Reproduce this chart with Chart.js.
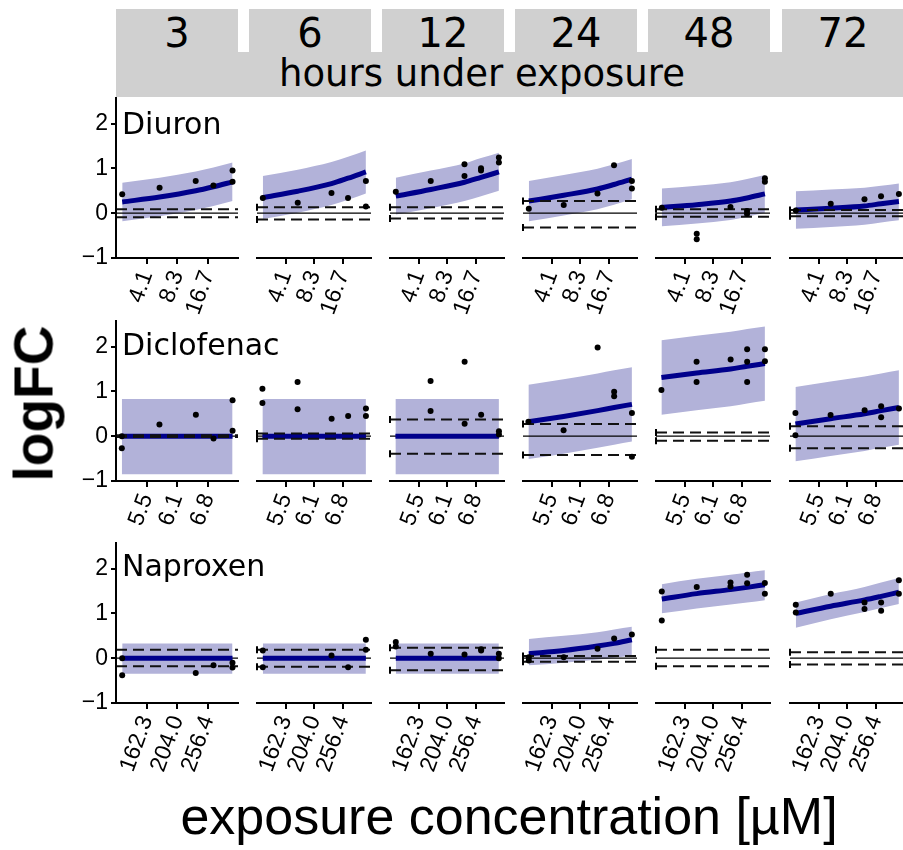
<!DOCTYPE html>
<html>
<head>
<meta charset="utf-8">
<title>logFC by exposure concentration</title>
<script src="https://cdn.jsdelivr.net/npm/chart.js@4.4.1/dist/chart.umd.min.js"></script>
<style>
  html, body { margin: 0; padding: 0; background: #fff; }
  #fig { position: relative; width: 903px; height: 850px; overflow: hidden; background: #fff; }
  .strip { position: absolute; background: #d0d0d0; }
  .txt { position: absolute; white-space: nowrap; line-height: 1; color: #000; }
  .dv { font-family: "DejaVu Sans", sans-serif; }
  .ls { font-family: "Liberation Sans", Arial, sans-serif; }
  canvas { position: absolute; }
</style>
</head>
<body>
<div id="fig"></div>
<script>
// ---- facets ----
const hours = [3, 6, 12, 24, 48, 72];
const drugNames = ['Diuron', 'Diclofenac', 'Naproxen'];

// ---- dose levels (µM), labelled breaks and axis limits per compound ----
const diuronConc = [2.34, 5.51, 12.6, 18.9, 29.3];
const diuronTicks = [4.1, 8.3, 16.7];
const diuronRange = [2.03, 33.2];

const diclofenacConc = [5.05, 5.75, 6.52, 6.93, 7.40];
const diclofenacTicks = [5.5, 6.1, 6.8];
const diclofenacRange = [4.95, 7.54];

const naproxenConc = [135.2, 178.7, 234.0, 267.2, 307.8];
const naproxenTicks = [162.3, 204.0, 256.4];
const naproxenRange = [129.1, 320.7];

// ---- Diuron: fitted logFC, confidence band, cut-offs, observations (per hour) ----
const diuronFit = [
  [0.25, 0.36, 0.50, 0.59, 0.70],
  [0.35, 0.49, 0.66, 0.78, 0.92],
  [0.38, 0.53, 0.69, 0.80, 0.92],
  [0.27, 0.40, 0.54, 0.64, 0.76],
  [0.13, 0.19, 0.27, 0.34, 0.43],
  [0.07, 0.11, 0.16, 0.21, 0.26]
];
const diuronLower = [
  [-0.18, -0.07, 0.07, 0.16, 0.27],
  [-0.13, 0.01, 0.18, 0.30, 0.44],
  [-0.03, 0.11, 0.27, 0.38, 0.50],
  [-0.18, -0.05, 0.09, 0.19, 0.31],
  [-0.29, -0.23, -0.15, -0.08, 0.01],
  [-0.35, -0.31, -0.26, -0.21, -0.16]
];
const diuronUpper = [
  [0.68, 0.79, 0.93, 1.02, 1.13],
  [0.83, 0.97, 1.14, 1.26, 1.40],
  [0.79, 0.95, 1.11, 1.23, 1.35],
  [0.72, 0.85, 0.99, 1.09, 1.21],
  [0.55, 0.61, 0.69, 0.76, 0.85],
  [0.49, 0.53, 0.57, 0.61, 0.66]
];
const diuronCutoff = [[0.09, -0.09], [0.13, -0.14], [0.13, -0.12], [0.27, -0.32], [0.09, -0.08], [0.07, -0.07]];
const diuronObs = [
  [[0, 0.42], [1, 0.57], [2, 0.72], [3, 0.62], [4, 0.95], [4, 0.70]],
  [[0, 0.34], [1, 0.23], [2, 0.45], [3, 0.34], [4, 0.72], [4, 0.15]],
  [[0, 0.48], [1, 0.72], [2, 1.09], [2, 0.83], [3, 1.00], [3, 0.95], [4, 1.24], [4, 1.13]],
  [[0, 0.10], [1, 0.18], [2, 0.44], [3, 1.07], [4, 0.72], [4, 0.55]],
  [[0, 0.12], [1, -0.46], [1, -0.58], [2, 0.14], [3, 0.05], [3, -0.02], [4, 0.78], [4, 0.70]],
  [[0, 0.06], [1, 0.21], [2, 0.31], [3, 0.38], [4, 0.43]]
];

// ---- Diclofenac ----
const diclofenacFit = [
  [0, 0, 0, 0, 0],
  [0, 0, 0, 0, 0],
  [0, 0, 0, 0, 0],
  [0.32, 0.44, 0.57, 0.64, 0.71],
  [1.31, 1.41, 1.50, 1.56, 1.62],
  [0.27, 0.39, 0.50, 0.57, 0.64]
];
const diclofenacLower = [
  [-0.85, -0.85, -0.85, -0.85, -0.85],
  [-0.85, -0.85, -0.85, -0.85, -0.85],
  [-0.85, -0.85, -0.85, -0.85, -0.85],
  [-0.51, -0.39, -0.26, -0.19, -0.12],
  [0.48, 0.58, 0.67, 0.73, 0.79],
  [-0.56, -0.44, -0.33, -0.26, -0.19]
];
const diclofenacUpper = [
  [0.83, 0.83, 0.83, 0.83, 0.83],
  [0.83, 0.83, 0.83, 0.83, 0.83],
  [0.83, 0.83, 0.83, 0.83, 0.83],
  [1.15, 1.27, 1.40, 1.47, 1.54],
  [2.14, 2.24, 2.33, 2.39, 2.45],
  [1.10, 1.22, 1.33, 1.40, 1.47]
];
const diclofenacCutoff = [[0.02, -0.02], [0.06, -0.06], [0.37, -0.39], [0.27, -0.42], [0.08, -0.10], [0.22, -0.27]];
const diclofenacObs = [
  [[0, -0.27], [0, 0.00], [1, 0.26], [2, 0.48], [3, -0.05], [4, 0.80], [4, 0.12]],
  [[0, 1.06], [0, 0.74], [1, 1.21], [1, 0.60], [2, 0.39], [3, 0.45], [4, 0.62], [4, 0.45]],
  [[1, 1.23], [1, 0.56], [2, 1.66], [2, 0.28], [3, 0.48], [4, 0.11], [4, 0.04]],
  [[0, 0.32], [1, 0.13], [2, 1.98], [3, 0.99], [3, 0.89], [4, 0.52], [4, -0.46]],
  [[0, 1.03], [1, 1.66], [1, 1.21], [2, 1.71], [3, 1.94], [3, 1.66], [3, 1.21], [4, 1.94], [4, 1.67]],
  [[0, 0.52], [0, 0.02], [1, 0.47], [2, 0.58], [3, 0.67], [3, 0.42], [4, 0.62]]
];

// ---- Naproxen ----
const naproxenFit = [
  [0, 0, 0, 0, 0],
  [0, 0, 0, 0, 0],
  [0, 0, 0, 0, 0],
  [0.10, 0.17, 0.27, 0.33, 0.41],
  [1.32, 1.44, 1.53, 1.58, 1.64],
  [1.00, 1.16, 1.30, 1.38, 1.47]
];
const naproxenLower = [
  [-0.35, -0.35, -0.35, -0.35, -0.35],
  [-0.35, -0.35, -0.35, -0.35, -0.35],
  [-0.35, -0.35, -0.35, -0.35, -0.35],
  [-0.16, -0.10, -0.03, 0.01, 0.06],
  [1.00, 1.11, 1.20, 1.24, 1.29],
  [0.68, 0.87, 1.03, 1.12, 1.21]
];
const naproxenUpper = [
  [0.33, 0.33, 0.33, 0.33, 0.33],
  [0.33, 0.33, 0.33, 0.33, 0.33],
  [0.33, 0.33, 0.33, 0.33, 0.33],
  [0.43, 0.50, 0.58, 0.64, 0.70],
  [1.65, 1.77, 1.86, 1.91, 1.96],
  [1.24, 1.43, 1.59, 1.69, 1.79]
];
const naproxenCutoff = [[0.19, -0.18], [0.19, -0.19], [0.23, -0.27], [0.05, -0.08], [0.19, -0.18], [0.13, -0.14]];
const naproxenObs = [
  [[0, -0.38], [0, 0.00], [2, -0.33], [3, -0.16], [4, -0.21], [4, -0.10]],
  [[0, 0.17], [0, -0.20], [2, 0.06], [3, -0.20], [4, 0.41], [4, 0.19]],
  [[0, 0.36], [0, 0.26], [1, 0.10], [2, 0.08], [3, 0.17], [3, 0.20], [4, 0.10], [4, 0.00]],
  [[0, 0.02], [0, -0.05], [1, 0.02], [2, 0.21], [3, 0.44], [4, 0.53]],
  [[0, 1.49], [0, 0.84], [1, 1.59], [2, 1.69], [2, 1.60], [3, 1.86], [3, 1.67], [4, 1.68], [4, 1.44]],
  [[0, 1.19], [0, 1.02], [1, 1.44], [2, 1.24], [2, 1.10], [3, 1.24], [3, 1.06], [4, 1.74], [4, 1.44]]
];

const yTicks = [-1, 0, 1, 2];
const yRange = [-1, 2.57];

// ---- assemble rows ----
const rows = [
  { conc: diuronConc, ticks: diuronTicks, range: diuronRange, fit: diuronFit, lower: diuronLower, upper: diuronUpper, cut: diuronCutoff, obs: diuronObs },
  { conc: diclofenacConc, ticks: diclofenacTicks, range: diclofenacRange, fit: diclofenacFit, lower: diclofenacLower, upper: diclofenacUpper, cut: diclofenacCutoff, obs: diclofenacObs },
  { conc: naproxenConc, ticks: naproxenTicks, range: naproxenRange, fit: naproxenFit, lower: naproxenLower, upper: naproxenUpper, cut: naproxenCutoff, obs: naproxenObs }
];

// ---- layout ----
const COL_X = [116, 249, 382, 515, 648, 782];
const ROW_BOTTOM = [258, 481, 703];
const PW = 122, PH = 160;
const BAND = 'rgb(178,178,217)';
const NAVY = '#00008b';

Chart.defaults.font.family = '"Liberation Sans", Arial, sans-serif';
Chart.defaults.color = '#000';

const fig = document.getElementById('fig');

function addDiv(cls, css, text) {
  const d = document.createElement('div');
  d.className = cls;
  d.style.cssText = css;
  if (text !== undefined) d.textContent = text;
  fig.appendChild(d);
  return d;
}

// strip: hour boxes + shared band
COL_X.forEach((x) => {
  addDiv('strip', `left:${x}px;top:9px;width:${PW}px;height:44px;`);
});
addDiv('strip', `left:${COL_X[0]}px;top:52px;width:${903 - COL_X[0]}px;height:45px;`);
COL_X.forEach((x, c) => {
  addDiv('txt dv', `left:${x}px;top:13px;width:${PW}px;text-align:center;font-size:40px;`, String(hours[c]));
});
addDiv('txt dv', `left:${COL_X[0]}px;top:55px;width:732px;text-align:center;font-size:37px;`, 'hours under exposure');

function fmtY(v) { return v < 0 ? '\u2212' + (-v) : String(v); }

function buildPanel(r, c) {
  const drug = rows[r];
  const padL = c === 0 ? 60 : 8, padR = 6, padT = 6, padB = r === 2 ? 96 : 62;
  const W = padL + PW + padR, H = padT + PH + padB;
  const cv = document.createElement('canvas');
  cv.width = W; cv.height = H;
  cv.style.left = (COL_X[c] - padL) + 'px';
  cv.style.top = (ROW_BOTTOM[r] - PH - padT) + 'px';
  cv.style.width = W + 'px';
  cv.style.height = H + 'px';
  fig.appendChild(cv);

  const [xmin, xmax] = drug.range;
  const [cutHi, cutLo] = drug.cut[c];
  const pts = arr => drug.conc.map((x, i) => ({ x, y: arr[c][i] }));
  const obsPts = drug.obs[c].map(([d, y]) => ({ x: drug.conc[d], y }));
  const hline = y => [{ x: xmin, y }, { x: xmax, y }];

  new Chart(cv, {
    type: 'line',
    data: {
      datasets: [
        { data: pts(drug.lower), borderColor: 'transparent', borderWidth: 0, pointRadius: 0, fill: false, order: 6, cubicInterpolationMode: 'monotone' },
        { data: pts(drug.upper), borderColor: 'transparent', borderWidth: 0, pointRadius: 0, fill: '-1', backgroundColor: BAND, order: 6, cubicInterpolationMode: 'monotone' },
        { data: hline(0), borderColor: '#000', borderWidth: 1.3, pointRadius: 0, order: 5 },
        { data: pts(drug.fit), borderColor: NAVY, borderWidth: 5, pointRadius: 0, order: 4, cubicInterpolationMode: 'monotone' },
        { data: hline(cutHi), borderColor: '#111', borderWidth: 2, borderDash: [11, 6], pointRadius: 0, order: 3 },
        { data: hline(cutLo), borderColor: '#111', borderWidth: 2, borderDash: [11, 6], pointRadius: 0, order: 3 },
        { type: 'scatter', data: [{ x: xmin, y: cutHi }, { x: xmin, y: cutLo }], pointStyle: 'line', rotation: 90, pointRadius: 3.5, borderColor: '#000', borderWidth: 2, clip: false, order: 2 },
        { type: 'scatter', data: obsPts, pointRadius: 3, backgroundColor: '#000', borderWidth: 0, clip: false, order: 1 }
      ]
    },
    options: {
      responsive: false,
      animation: false,
      devicePixelRatio: 1,
      events: [],
      layout: { padding: { left: c === 0 ? 0 : padL, right: padR, top: padT, bottom: 0 } },
      plugins: { legend: { display: false }, tooltip: { enabled: false } },
      scales: {
        x: {
          type: 'logarithmic',
          min: xmin,
          max: xmax,
          afterBuildTicks: s => { s.ticks = drug.ticks.map(v => ({ value: v })); },
          afterFit: s => { s.height = padB; s.paddingLeft = 0; s.paddingRight = 0; },
          ticks: {
            autoSkip: false, minRotation: 70, maxRotation: 70, padding: 3,
            color: '#000', font: { size: 23 },
            callback: v => Number(v).toFixed(1)
          },
          grid: { drawOnChartArea: false, drawTicks: true, tickLength: 6, color: '#000', lineWidth: 2 },
          border: { display: true, color: '#000', width: 2 }
        },
        y: {
          type: 'linear',
          min: yRange[0],
          max: yRange[1],
          display: c === 0,
          afterBuildTicks: s => { s.ticks = yTicks.map(v => ({ value: v })); },
          afterFit: s => { s.width = padL; s.paddingTop = 0; s.paddingBottom = 0; },
          ticks: { padding: 3, color: '#000', font: { size: 23 }, callback: v => fmtY(v) },
          grid: { drawOnChartArea: false, drawTicks: true, tickLength: 5, color: '#000', lineWidth: 2 },
          border: { display: true, color: '#000', width: 2 }
        }
      }
    }
  });
}

for (let r = 0; r < 3; r++) {
  for (let c = 0; c < 6; c++) buildPanel(r, c);
}

// compound labels inside the first panel of each row
const labelBase = [134, 355, 576];
drugNames.forEach((n, r) => {
  addDiv('txt dv', `left:122px;top:${labelBase[r] - 25}px;font-size:30px;`, n);
});

// axis titles
addDiv('txt ls', `left:-76px;top:376px;width:220px;height:55px;text-align:center;font-size:55px;font-weight:bold;transform:rotate(-90deg);`, 'logFC');
addDiv('txt ls', `left:109px;top:790px;width:800px;text-align:center;font-size:52px;`, 'exposure concentration [\u00b5M]');
</script>
</body>
</html>
